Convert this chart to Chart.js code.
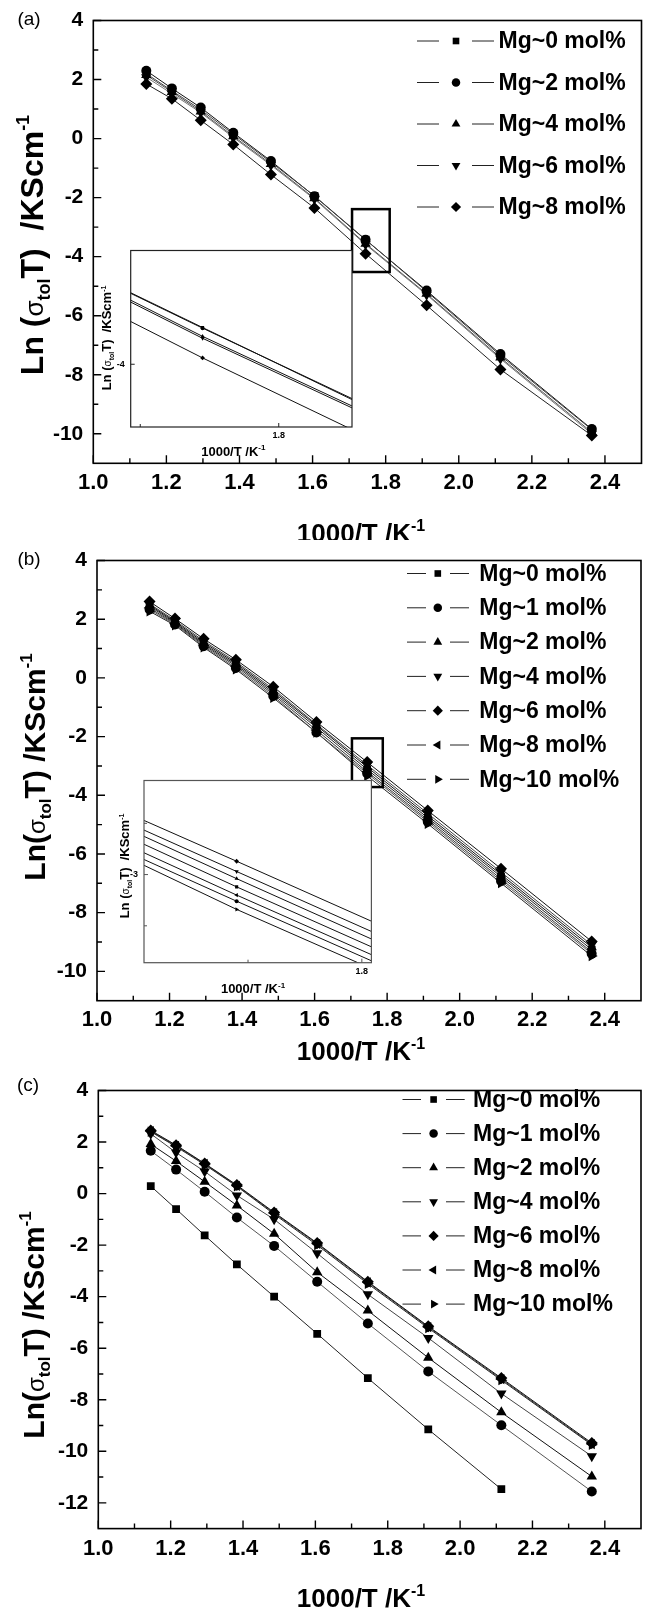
<!DOCTYPE html>
<html>
<head>
<meta charset="utf-8">
<title>Ln(σtolT) vs 1000/T</title>
<script src="https://cdn.jsdelivr.net/npm/chart.js@4.4.1/dist/chart.umd.min.js"></script>
<style>
  html, body { margin: 0; padding: 0; background: #fff; }
  #wrap { position: relative; width: 653px; height: 1611px; }
  canvas { position: absolute; }
</style>
</head>
<body>
<div id="wrap">
  <canvas id="mainA" width="653" height="540" style="left:0px;top:0px"></canvas>
  <canvas id="insetA" width="265" height="225" style="left:95px;top:240px"></canvas>
  <canvas id="mainB" width="653" height="530" style="left:0px;top:540px"></canvas>
  <canvas id="insetB" width="275" height="230" style="left:105px;top:770px"></canvas>
  <canvas id="mainC" width="653" height="541" style="left:0px;top:1070px"></canvas>
</div>
<script>
const FONT = '"Liberation Sans", Arial, Helvetica, sans-serif';

// 1000/T (K^-1) of the measuring temperatures
const invT = [1.145, 1.215, 1.294, 1.383, 1.486, 1.605, 1.745, 1.912, 2.114, 2.364];

// axis ticks of the big plots
const xMajor = [1.0, 1.2, 1.4, 1.6, 1.8, 2.0, 2.2, 2.4];
const xMinor = [1.1, 1.3, 1.5, 1.7, 1.9, 2.1, 2.3];
const yMajorAB = [4, 2, 0, -2, -4, -6, -8, -10];
const yMinorAB = [3, 1, -1, -3, -5, -7, -9];
const yMajorC = [4, 2, 0, -2, -4, -6, -8, -10, -12];
const yMinorC = [3, 1, -1, -3, -5, -7, -9, -11];

// (a)
const aLabels = ['Mg~0 mol%', 'Mg~2 mol%', 'Mg~4 mol%', 'Mg~6 mol%', 'Mg~8 mol%'];
const aMarkers = ['square', 'circle', 'triangle', 'triangleDown', 'diamond'];
const aMg0 = [2.20, 1.62, 0.98, 0.15, -0.80, -1.94, -3.42, -5.18, -7.35, -9.86];
const aMg2 = [2.30, 1.70, 1.05, 0.20, -0.76, -1.95, -3.43, -5.15, -7.30, -9.84];
const aMg4 = [2.15, 1.58, 0.92, 0.08, -0.86, -2.02, -3.56, -5.26, -7.42, -9.95];
const aMg6 = [2.08, 1.52, 0.88, 0.04, -0.90, -2.05, -3.59, -5.29, -7.46, -10.00];
const aMg8 = [1.85, 1.35, 0.62, -0.20, -1.22, -2.35, -3.90, -5.65, -7.82, -10.06];

// (b)
const bLabels = ['Mg~0 mol%', 'Mg~1 mol%', 'Mg~2 mol%', 'Mg~4 mol%', 'Mg~6 mol%', 'Mg~8 mol%', 'Mg~10 mol%'];
const bcMarkers = ['square', 'circle', 'triangle', 'triangleDown', 'diamond', 'triangleLeft', 'triangleRight'];
const bMg0 = [2.44, 1.88, 1.16, 0.45, -0.50, -1.69, -3.12, -4.77, -6.77, -9.26];
const bMg1 = [2.33, 1.82, 1.08, 0.34, -0.62, -1.86, -3.26, -4.90, -6.92, -9.40];
const bMg2 = [2.48, 1.92, 1.21, 0.50, -0.44, -1.62, -3.04, -4.70, -6.70, -9.18];
const bMg4 = [2.52, 1.96, 1.26, 0.55, -0.38, -1.58, -2.97, -4.62, -6.62, -9.10];
const bMg6 = [2.60, 2.02, 1.33, 0.62, -0.30, -1.50, -2.87, -4.52, -6.50, -8.98];
const bMg8 = [2.38, 1.85, 1.12, 0.40, -0.56, -1.78, -3.20, -4.84, -6.85, -9.34];
const bMg10 = [2.27, 1.79, 1.04, 0.29, -0.68, -1.86, -3.34, -4.97, -6.99, -9.48];

// (c)
const cLabels = ['Mg~0 mol%', 'Mg~1 mol%', 'Mg~2 mol%', 'Mg~4 mol%', 'Mg~6 mol%', 'Mg~8 mol%', 'Mg~10 mol%'];
const cMg0 = [0.29, -0.60, -1.62, -2.75, -4.00, -5.44, -7.16, -9.15, -11.47, null];
const cMg1 = [1.66, 0.93, 0.07, -0.93, -2.03, -3.42, -5.04, -6.90, -8.99, -11.56];
const cMg2 = [1.92, 1.26, 0.46, -0.46, -1.56, -3.05, -4.54, -6.37, -8.49, -10.98];
const cMg4 = [2.32, 1.59, 0.86, -0.07, -1.00, -2.32, -3.91, -5.60, -7.76, -10.19];
const cMg6 = [2.45, 1.88, 1.17, 0.33, -0.73, -1.92, -3.42, -5.15, -7.16, -9.68];
const cMg8 = [2.42, 1.85, 1.15, 0.30, -0.76, -1.95, -3.45, -5.18, -7.20, -9.72];
const cMg10 = [2.40, 1.82, 1.12, 0.28, -0.80, -2.00, -3.50, -5.22, -7.24, -9.75];

// zoomed region (x0, x1, y0, y1) and inset axes
const boxA = [1.708, 1.811, -4.52, -2.39];
const boxB = [1.703, 1.788, -3.72, -2.06];
const insetAxRange = [1.6931, 1.8529], insetAyRange = [-4.99, -2.205];
const insetBxRange = [1.7043, 1.8042], insetByRange = [-3.86, -2.082];
const insetAxMajor = [1.8], insetAxMinor = [1.7], insetAyMajor = [-4], insetAyMinor = [];
const insetBxMajor = [1.8], insetBxMinor = [1.75], insetByMajor = [-3], insetByMinor = [-2.5, -3.5];

const MARKER = {
  square: ['rect', 0, 5.5], circle: ['circle', 0, 5], triangle: ['triangle', 0, 6],
  triangleDown: ['triangle', 180, 6], diamond: ['rectRot', 0, 6],
  triangleLeft: ['triangle', -90, 6], triangleRight: ['triangle', 90, 6]
};

function buildSets(series, markers, labels, colors, k) {
  return series.map((ys, i) => {
    const m = MARKER[markers[i]];
    return {
      label: labels[i],
      data: invT.map((x, j) => ({ x: x, y: ys[j] })).filter(p => p.y !== null),
      borderColor: colors[i % colors.length],
      borderWidth: 1,
      pointStyle: m[0],
      pointRotation: m[1],
      pointRadius: m[2] * k,
      pointBackgroundColor: '#000',
      pointBorderColor: '#000',
      pointBorderWidth: 0,
      tension: 0
    };
  });
}

function drawRich(ctx, parts, cx, cy, angle, S) {
  ctx.save();
  ctx.translate(cx, cy);
  if (angle) ctx.rotate(angle);
  ctx.fillStyle = '#000';
  ctx.textAlign = 'left';
  ctx.textBaseline = 'alphabetic';
  let total = 0;
  const w = parts.map(p => { ctx.font = p[1]; const m = ctx.measureText(p[0]).width; total += m; return m; });
  let x = -total / 2;
  parts.forEach((p, i) => { ctx.font = p[1]; ctx.fillText(p[0], x, 0.36 * S + (p[2] || 0)); x += w[i]; });
  ctx.restore();
}

function yTitleParts(S, spaced) {
  const b = `bold ${S}px ${FONT}`, s = `bold ${Math.round(S * 0.55)}px ${FONT}`;
  return [[spaced ? 'Ln (' : 'Ln(', b], ['σ', `${Math.round(S * 0.8)}px ${FONT}`], ['tol', s, 0.22 * S],
          ['T)', b], [spaced ? '  /KScm' : ' /KScm', b], ['-1', s, -0.42 * S]];
}
function xTitleParts(S) {
  return [['1000/T /K', `bold ${S}px ${FONT}`], ['-1', `bold ${Math.round(S * 0.6)}px ${FONT}`, -0.42 * S]];
}

function ticksAndFrame(ctx, a, x, y, o) {
  ctx.strokeStyle = o.frameColor || '#000';
  ctx.lineWidth = o.frameW;
  ctx.strokeRect(a.left, a.top, a.right - a.left, a.bottom - a.top);
  ctx.lineWidth = o.tickW;
  ctx.beginPath();
  const xt = (vals, len) => vals.forEach(v => { const p = x.getPixelForValue(v); ctx.moveTo(p, a.bottom); ctx.lineTo(p, a.bottom - len); });
  const yt = (vals, len) => vals.forEach(v => { const p = y.getPixelForValue(v); ctx.moveTo(a.left, p); ctx.lineTo(a.left + len, p); });
  xt(o.xMajor, o.major); xt(o.xMinor, o.minor);
  yt(o.yMajor, o.major); yt(o.yMinor, o.minor);
  ctx.stroke();
}

function mainDecor(o) {
  return {
    id: 'mainDecor',
    afterDatasetsDraw(chart) {
      const { ctx, chartArea: a, scales: { x, y } } = chart;
      ctx.save();
      if (o.box) {
        const x0 = x.getPixelForValue(o.box[0]), x1 = x.getPixelForValue(o.box[1]);
        const y0 = y.getPixelForValue(o.box[3]), y1 = y.getPixelForValue(o.box[2]);
        ctx.strokeStyle = '#000'; ctx.lineWidth = 2.5;
        ctx.strokeRect(x0, y0, x1 - x0, y1 - y0);
      }
      ticksAndFrame(ctx, a, x, y, { frameW: 1.6, tickW: 1.4, major: 8, minor: 5,
        xMajor: xMajor, xMinor: xMinor, yMajor: o.yMajor, yMinor: o.yMinor });

      // legend: line - marker - line - text
      const L = o.legend;
      chart.data.datasets.forEach((ds, i) => {
        const ry = L.y0 + i * L.dy;
        ctx.strokeStyle = '#222'; ctx.lineWidth = 1;
        ctx.beginPath();
        ctx.moveTo(L.l0, ry); ctx.lineTo(L.l1, ry);
        ctx.moveTo(L.r0, ry); ctx.lineTo(L.r1, ry);
        ctx.stroke();
        ctx.fillStyle = '#000';
        Chart.helpers.drawPoint(ctx, { pointStyle: ds.pointStyle, rotation: ds.pointRotation,
          radius: ds.pointRadius * 0.85, borderWidth: 0 }, L.mx, ry);
        ctx.font = `bold ${L.size}px ${FONT}`;
        ctx.textAlign = 'left'; ctx.textBaseline = 'middle';
        ctx.fillText(ds.label, L.tx, ry + 1);
      });

      drawRich(ctx, yTitleParts(o.yTitle.size, o.yTitle.spaced), o.yTitle.cx, o.yTitle.cy, -Math.PI / 2, o.yTitle.size);
      drawRich(ctx, xTitleParts(26), o.xTitle.cx, o.xTitle.cy, 0, 26);

      ctx.font = `19px ${FONT}`;
      ctx.fillStyle = '#000'; ctx.textAlign = 'center'; ctx.textBaseline = 'middle';
      ctx.fillText(o.tag.t, o.tag.cx, o.tag.cy);
      ctx.restore();
    }
  };
}

function mainPanel(id, o) {
  const cv = document.getElementById(id);
  const W = cv.width, H = cv.height;
  return new Chart(cv, {
    type: 'line',
    data: { datasets: buildSets(o.series, o.markers, o.labels, o.colors, 1) },
    options: {
      responsive: false, animation: false, events: [],
      layout: { padding: { left: 0, top: o.area.top, right: W - o.area.right, bottom: 0 } },
      plugins: { legend: { display: false }, tooltip: { enabled: false } },
      scales: {
        x: {
          type: 'linear', min: 1.0, max: 2.5,
          grid: { display: false, drawTicks: false }, border: { display: false },
          afterBuildTicks: s => { s.ticks = xMajor.map(v => ({ value: v })); },
          afterFit: s => { s.height = H - o.area.bottom; },
          ticks: { color: '#000', font: { family: FONT, size: 22, weight: 'bold', lineHeight: 1 },
                   padding: o.xPad, maxRotation: 0, autoSkip: false, callback: v => v.toFixed(1) }
        },
        y: {
          type: 'linear', min: o.yMin, max: 4,
          grid: { display: false, drawTicks: false }, border: { display: false },
          afterBuildTicks: s => { s.ticks = o.yMajor.map(v => ({ value: v })); },
          afterFit: s => { s.width = o.area.left; },
          ticks: { color: '#000', font: { family: FONT, size: 21, weight: 'bold', lineHeight: 1 },
                   padding: 10, autoSkip: false, callback: v => String(v) }
        }
      }
    },
    plugins: [mainDecor(o)]
  });
}

function insetDecor(o) {
  return {
    id: 'insetDecor',
    beforeDraw(chart) {
      const { ctx, chartArea: a } = chart;
      ctx.save();
      ctx.fillStyle = '#fff';
      ctx.fillRect(a.left, a.top, a.right - a.left, a.bottom - a.top);
      ctx.restore();
    },
    afterDraw(chart) {
      const { ctx, chartArea: a, scales: { x, y } } = chart;
      ctx.save();
      ticksAndFrame(ctx, a, x, y, { frameW: 1.2, tickW: 1, major: 4, minor: 3, frameColor: o.frameColor,
        xMajor: o.xMajor, xMinor: o.xMinor, yMajor: o.yMajor, yMinor: o.yMinor });
      drawRich(ctx, yTitleParts(13, true), o.yTitle.cx, o.yTitle.cy, -Math.PI / 2, 13);
      drawRich(ctx, xTitleParts(13), o.xTitle.cx, o.xTitle.cy, 0, 13);
      ctx.restore();
    }
  };
}

function insetPanel(id, o) {
  const cv = document.getElementById(id);
  const W = cv.width, H = cv.height;
  return new Chart(cv, {
    type: 'line',
    data: { datasets: buildSets(o.series, o.markers, o.labels, ['#111'], 0.4) },
    options: {
      responsive: false, animation: false, events: [],
      layout: { padding: { left: 0, top: o.area.top, right: W - o.area.right, bottom: 0 } },
      plugins: { legend: { display: false }, tooltip: { enabled: false } },
      scales: {
        x: {
          type: 'linear', min: o.xRange[0], max: o.xRange[1],
          grid: { display: false, drawTicks: false }, border: { display: false },
          afterBuildTicks: s => { s.ticks = o.xMajor.map(v => ({ value: v })); },
          afterFit: s => { s.height = H - o.area.bottom; },
          ticks: { color: '#000', font: { family: FONT, size: 9, weight: 'bold', lineHeight: 1 },
                   padding: 4, maxRotation: 0, autoSkip: false, callback: v => v.toFixed(1) }
        },
        y: {
          type: 'linear', min: o.yRange[0], max: o.yRange[1],
          grid: { display: false, drawTicks: false }, border: { display: false },
          afterBuildTicks: s => { s.ticks = o.yMajor.map(v => ({ value: v })); },
          afterFit: s => { s.width = o.area.left; },
          ticks: { color: '#000', font: { family: FONT, size: 9, weight: 'bold', lineHeight: 1 },
                   padding: 6, autoSkip: false, callback: v => String(v) }
        }
      }
    },
    plugins: [insetDecor(o)]
  });
}

const aSeries = [aMg0, aMg2, aMg4, aMg6, aMg8];
const bSeries = [bMg0, bMg1, bMg2, bMg4, bMg6, bMg8, bMg10];
const cSeries = [cMg0, cMg1, cMg2, cMg4, cMg6, cMg8, cMg10];

mainPanel('mainA', {
  series: aSeries, markers: aMarkers, labels: aLabels,
  colors: ['#444', '#111', '#555', '#777', '#222'],
  area: { left: 93.3, right: 641.5, top: 18.3, bottom: 463.3 },
  yMin: -11, yMajor: yMajorAB, yMinor: yMinorAB, xPad: 9, box: boxA,
  legend: { y0: 41, dy: 41.5, l0: 417, l1: 439, mx: 456, r0: 472, r1: 494, tx: 498.5, size: 23 },
  yTitle: { cx: 31, cy: 245, size: 32, spaced: true },
  xTitle: { cx: 361, cy: 533 },
  tag: { t: '(a)', cx: 29, cy: 20 }
});
insetPanel('insetA', {
  series: aSeries, markers: aMarkers, labels: aLabels, frameColor: '#222',
  area: { left: 35.7, right: 257, top: 6, bottom: 187 },
  xRange: insetAxRange, yRange: insetAyRange,
  xMajor: insetAxMajor, xMinor: insetAxMinor, yMajor: insetAyMajor, yMinor: insetAyMinor,
  yTitle: { cx: 11.7, cy: 98 }, xTitle: { cx: 138.3, cy: 211 }
});

mainPanel('mainB', {
  series: bSeries, markers: bcMarkers, labels: bLabels,
  colors: ['#222', '#555', '#111', '#444', '#111', '#333', '#222'],
  area: { left: 97, right: 641, top: 14, bottom: 460.7 },
  yMin: -11, yMajor: yMajorAB, yMinor: yMinorAB, xPad: 8, box: boxB,
  legend: { y0: 33.5, dy: 34.3, l0: 407, l1: 426, mx: 437.8, r0: 450, r1: 469, tx: 479.3, size: 23 },
  yTitle: { cx: 34, cy: 227, size: 30, spaced: false },
  xTitle: { cx: 361, cy: 510.7 },
  tag: { t: '(b)', cx: 29, cy: 19.3 }
});
insetPanel('insetB', {
  series: bSeries, markers: bcMarkers, labels: bLabels, frameColor: '#555',
  area: { left: 39, right: 266.4, top: 6.7, bottom: 192.7 },
  xRange: insetBxRange, yRange: insetByRange,
  xMajor: insetBxMajor, xMinor: insetBxMinor, yMajor: insetByMajor, yMinor: insetByMinor,
  yTitle: { cx: 19.3, cy: 96 }, xTitle: { cx: 148, cy: 218.6 }
});

mainPanel('mainC', {
  series: cSeries, markers: bcMarkers, labels: cLabels,
  colors: ['#222', '#555', '#111', '#444', '#111', '#333', '#222'],
  area: { left: 98.3, right: 641, top: 15.5, bottom: 458.6 },
  yMin: -13, yMajor: yMajorC, yMinor: yMinorC, xPad: 9, box: null,
  legend: { y0: 29.5, dy: 34.1, l0: 402.5, l1: 421, mx: 433.6, r0: 446, r1: 464.7, tx: 473, size: 23 },
  yTitle: { cx: 33, cy: 255, size: 30, spaced: false },
  xTitle: { cx: 361, cy: 527.6 },
  tag: { t: '(c)', cx: 28, cy: 15.5 }
});
</script>
</body>
</html>
